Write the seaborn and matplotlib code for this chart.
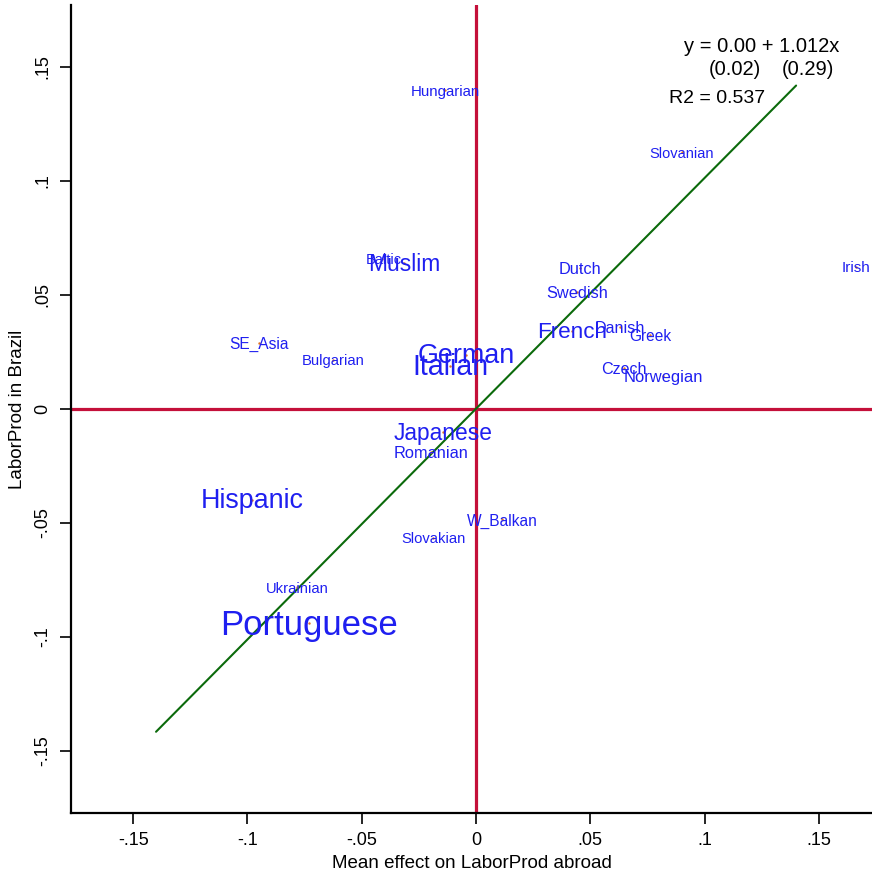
import numpy as np
import pandas as pd
import matplotlib
matplotlib.use("Agg")
import matplotlib.pyplot as plt
import matplotlib.transforms as mtransforms
import seaborn as sns

# Ancestry groups: mean effect abroad (x) vs. effect in Brazil (y)
groups = ["Hungarian", "Slovanian", "Baltic", "Muslim", "Dutch", "Irish", "Swedish",
          "French", "Danish", "Greek", "SE_Asia", "Bulgarian", "German", "Italian",
          "Czech", "Norwegian", "Japanese", "Romanian", "Hispanic", "W_Balkan",
          "Slovakian", "Ukrainian", "Portuguese"]
effect_abroad = [-0.0136, 0.0901, -0.0402, -0.0315, 0.0455, 0.1660, 0.0442,
                 0.0420, 0.0630, 0.0762, -0.0949, -0.0626, -0.0043, -0.0114,
                 0.0647, 0.0818, -0.0144, -0.0197, -0.0980, 0.0114,
                 -0.0188, -0.0783, -0.0730]
effect_brazil = [0.1397, 0.1126, 0.0657, 0.0640, 0.0618, 0.0622, 0.0512,
                 0.0342, 0.0359, 0.0324, 0.0289, 0.0215, 0.0237, 0.0188,
                 0.0180, 0.0145, -0.0101, -0.0188, -0.0399, -0.0486,
                 -0.0565, -0.0784, -0.0942]

# Label point sizes (larger groups drawn with bigger text)
label_pt = [10.8, 10.5, 10.5, 16.4, 11.8, 11.0, 11.8,
            16.2, 11.6, 11.2, 11.2, 10.6, 19.4, 20.6,
            11.6, 11.9, 16.4, 11.8, 19.4, 11.2,
            10.6, 10.6, 25.0]

# Fitted line and its reported statistics
fit_intercept = 0.00
fit_slope = 1.012
fit_se = ["(0.02)", "(0.29)"]
fit_r2 = 0.537
fit_x_span = [-0.14, 0.14]

x_ticks = [-0.15, -0.10, -0.05, 0.0, 0.05, 0.10, 0.15]
tick_text = ["-.15", "-.1", "-.05", "0", ".05", ".1", ".15"]

sns.set_theme(style="white")
plt.rcParams["font.family"] = ["Liberation Sans", "DejaVu Sans"]

df = pd.DataFrame({"group": groups, "abroad": effect_abroad, "brazil": effect_brazil,
                   "pt": label_pt})

fig = plt.figure(figsize=(8.72, 8.77), dpi=100)
ax = fig.add_axes([71 / 872, 64 / 877, 801 / 872, 808 / 877])

# Reference axes through the origin
ax.axhline(0, color="#C4103A", lw=2.3, zorder=1)
ax.axvline(0, color="#C4103A", lw=2.3, zorder=1)

# Regression line
line_x = np.array(fit_x_span)
line_df = pd.DataFrame({"x": line_x, "y": fit_intercept + fit_slope * line_x})
sns.lineplot(data=line_df, x="x", y="y", ax=ax, color="#0B6A0B", lw=1.5, zorder=2)

# Tiny markers at each group's position
sns.scatterplot(data=df, x="abroad", y="brazil", ax=ax, color="#E07020", s=3,
                linewidth=0, zorder=3, legend=False)

# Group names centred on their points (nudged slightly down to sit on the dot)
nudge = mtransforms.offset_copy(ax.transData, fig=fig, x=0, y=-1.2, units="points")
for _, r in df.iterrows():
    ax.text(r["abroad"], r["brazil"], r["group"], fontsize=r["pt"], color="#1F1FF0",
            ha="center", va="center", zorder=4, clip_on=False, transform=nudge)

# Equation annotation
ax.text(0.1249, 0.1586, f"y = {fit_intercept:.2f} + {fit_slope:.3f}x",
        fontsize=14.5, color="black", ha="center", va="center")
ax.text(0.1133, 0.1485, fit_se[0], fontsize=14.5, color="black", ha="center", va="center")
ax.text(0.1452, 0.1485, fit_se[1], fontsize=14.5, color="black", ha="center", va="center")
ax.text(0.1054, 0.1360, f"R2 = {fit_r2:.3f}",
        fontsize=14, color="black", ha="center", va="center")

ax.set_xlim(-0.1772, 0.1732)
ax.set_ylim(-0.1773, 0.1770)
ax.set_xticks(x_ticks)
ax.set_xticklabels(tick_text)
ax.set_yticks(x_ticks)
ax.set_yticklabels(tick_text, rotation=90, va="center")
ax.tick_params(axis="both", direction="out", length=8, width=1.2, color="black",
               labelcolor="black", labelsize=13, pad=6, bottom=True, left=True)

ax.set_xlabel("Mean effect on LaborProd abroad", fontsize=13.5, labelpad=4, color="black")
ax.set_ylabel("LaborProd in Brazil", fontsize=13.5, labelpad=6, color="black")

for side in ["top", "right"]:
    ax.spines[side].set_visible(False)
for side in ["left", "bottom"]:
    ax.spines[side].set_color("black")
    ax.spines[side].set_linewidth(1.6)

fig.savefig("out.png", dpi=100, facecolor="white")
